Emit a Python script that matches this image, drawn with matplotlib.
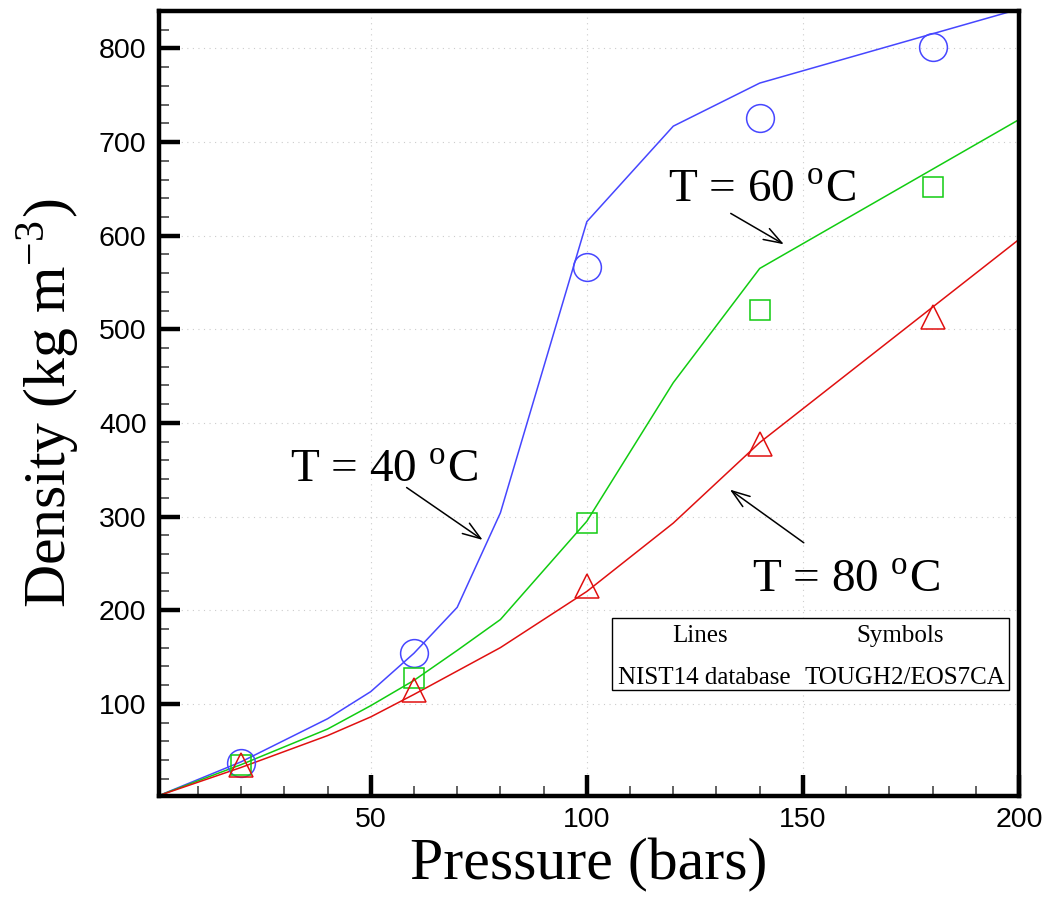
import matplotlib
matplotlib.use("Agg")
import matplotlib.pyplot as plt
import matplotlib.patches as mpatches
from matplotlib.ticker import MultipleLocator

plt.rcParams['mathtext.fontset'] = 'stix'

# NIST14 database lines
p_line = [1, 20, 40, 50, 60, 70, 80, 100, 120, 140, 200]
rho40_line = [2, 38, 84, 113, 154, 203, 304, 615, 717, 763, 842]
rho60_line = [2, 35, 73, 98, 125, 157, 190, 295, 443, 565, 724]
rho80_line = [2, 32, 66, 86, 110, 135, 160, 220, 293, 379, 596]

# TOUGH2/EOS7CA symbols
p_sym = [20, 60, 100, 140, 180]
rho40_sym = [37, 154, 567, 726, 802]
rho60_sym = [35, 128, 293, 521, 652]
rho80_sym = [35, 115, 226, 377, 513]

xticks = [50, 100, 150, 200]
yticks = [100, 200, 300, 400, 500, 600, 700, 800]

c_blue = '#4646ff'
c_green = '#11cc11'
c_red = '#e01010'

fig = plt.figure(figsize=(10.48, 9.13), dpi=100)
ax = fig.add_axes([159/1048, 1 - 796/913, 860/1048, 785/913])

ax.plot(p_line, rho40_line, color=c_blue, lw=1.1)
ax.plot(p_line, rho60_line, color=c_green, lw=1.1)
ax.plot(p_line, rho80_line, color=c_red, lw=1.1)

ax.plot(p_sym, rho40_sym, 'o', ms=20, mfc='none', mec=c_blue, mew=1.1)
ax.plot(p_sym, rho60_sym, 's', ms=14, mfc='none', mec=c_green, mew=1.1)
ax.plot(p_sym, rho80_sym, '^', ms=17, mfc='none', mec=c_red, mew=1.1)

ax.set_xlim(1, 200)
ax.set_ylim(1.5, 840)
ax.set_xticks(xticks)
ax.set_yticks(yticks)
ax.xaxis.set_minor_locator(MultipleLocator(10))
ax.yaxis.set_minor_locator(MultipleLocator(20))

for s in ax.spines.values():
    s.set_linewidth(3.2)

ax.tick_params(which='major', direction='in', length=15, width=3.2,
               labelsize=20.5, top=False, right=False)
ax.tick_params(axis='y', which='major', pad=9)
ax.tick_params(axis='x', which='major', pad=8)
ax.tick_params(which='minor', direction='in', length=7, width=1.3,
               color='#555555', top=False, right=False)
for lab in ax.get_xticklabels() + ax.get_yticklabels():
    lab.set_fontfamily('Liberation Sans')

ax.grid(True, which='major', color='#cccccc', linestyle=(0, (1, 4)), lw=0.8)
ax.set_axisbelow(True)

ax.set_xlabel('Pressure (bars)', family='Liberation Serif', fontsize=43, labelpad=4)
ax.set_ylabel(r'Density (kg m$^{\mathregular{-3}}$)', family='Liberation Serif',
              fontsize=43, labelpad=12)

arrow = dict(arrowstyle='->,head_length=1.3,head_width=0.45', lw=1.1, color='black',
             shrinkA=0, shrinkB=0)
tfont = dict(family='Liberation Serif', fontsize=34, ha='left', va='baseline')

ax.text(31.25, 336, r'T = 40 $^{\mathregular{o}}$C', **tfont)
ax.annotate('', xy=(75.9, 275), xytext=(58.3, 331), arrowprops=arrow)
ax.text(118.75, 635.6, r'T = 60 $^{\mathregular{o}}$C', **tfont)
ax.annotate('', xy=(145.6, 590.8), xytext=(133.3, 623.8), arrowprops=arrow)
ax.text(138.2, 218.6, r'T = 80 $^{\mathregular{o}}$C', **tfont)
ax.annotate('', xy=(133.1, 328.8), xytext=(150.2, 272), arrowprops=arrow)

# legend box
box = mpatches.Rectangle((612/1048, 1 - 690/913), 397/1048, 72/913,
                         transform=fig.transFigure, fill=True, facecolor='white',
                         edgecolor='black', lw=1.0, zorder=5)
fig.patches.append(box)
lfont = dict(family='Liberation Serif', fontsize=18, ha='center', va='baseline',
             transform=fig.transFigure, zorder=6)
fig.text(700/1048, 1 - 642/913, 'Lines', **lfont)
fig.text(900/1048, 1 - 642/913, 'Symbols', **lfont)
fig.text(704/1048, 1 - 684/913, 'NIST14 database', **lfont)
fig.text(905/1048, 1 - 684/913, 'TOUGH2/EOS7CA', **lfont)

fig.savefig('out.png', dpi=100)
